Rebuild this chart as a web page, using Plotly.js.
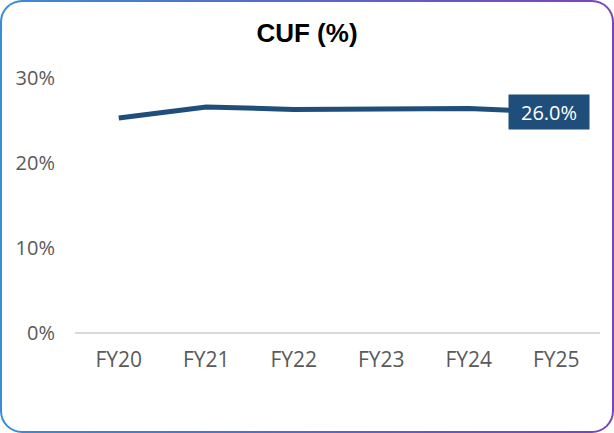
<!DOCTYPE html>
<html>
<head>
<meta charset="utf-8">
<script src="https://cdn.plot.ly/plotly-3.0.1.min.js"></script>
<style>
  html, body { margin: 0; padding: 0; background: #ffffff; }
  #frame {
    position: absolute; left: 0; top: 0; width: 614px; height: 433px;
    box-sizing: border-box; border-radius: 22px;
    background: linear-gradient(to right, #3a8bd8, #7a44b9);
  }
  #inner {
    position: absolute; left: 2px; top: 2px; right: 2px; bottom: 2px;
    border-radius: 20px; background: #ffffff;
  }
  #chart { position: absolute; left: 0; top: 0; width: 614px; height: 433px; }
</style>
</head>
<body>
<div id="frame"><div id="inner"></div></div>
<div id="chart"></div>
<script>
// Data
const categories = ["FY20", "FY21", "FY22", "FY23", "FY24", "FY25"];
const cufValues = [25.3, 26.6, 26.3, 26.3, 26.4, 26.0];
const yTicks = [0, 10, 20, 30];
const chartTitle = "CUF (%)";

const lastIdx = cufValues.length - 1;

const trace = {
  type: "scatter",
  mode: "lines",
  x: categories,
  y: cufValues,
  line: { color: "#1f4e7a", width: 5, shape: "linear" },
  hoverinfo: "skip"
};

const layout = {
  width: 614,
  height: 433,
  paper_bgcolor: "rgba(0,0,0,0)",
  plot_bgcolor: "rgba(0,0,0,0)",
  margin: { l: 75, r: 14, t: 78, b: 100 },
  showlegend: false,
  title: {
    text: "<b>" + chartTitle + "</b>",
    font: { family: "Liberation Sans, Arial, sans-serif", size: 26, color: "#000000" },
    x: 0.5, xanchor: "center",
    y: 1 - 33 / 433, yanchor: "middle", yref: "container"
  },
  xaxis: {
    type: "category",
    range: [-0.5, 5.5],
    showgrid: false,
    zeroline: false,
    showline: false,
    ticks: "",
    ticklabelstandoff: 12,
    tickfont: { family: "Open Sans, sans-serif", size: 21, color: "#5a5a5a" },
    fixedrange: true
  },
  yaxis: {
    range: [0, 30],
    tickvals: yTicks,
    ticktext: yTicks.map(v => v + "%"),
    showgrid: false,
    zeroline: true,
    zerolinecolor: "#d9d9d9",
    zerolinewidth: 2,
    showline: false,
    ticks: "",
    ticklabelstandoff: 19,
    tickfont: { family: "Open Sans, sans-serif", size: 20, color: "#5a5a5a" },
    fixedrange: true
  },
  annotations: [{
    x: categories[lastIdx],
    y: cufValues[lastIdx],
    xref: "x", yref: "y",
    text: cufValues[lastIdx].toFixed(1) + "%",
    showarrow: false,
    xshift: -7,
    width: 80, height: 34,
    borderpad: 0,
    bgcolor: "#1f4e7a",
    font: { family: "Open Sans, sans-serif", size: 20, color: "#ffffff" }
  }]
};

Plotly.newPlot("chart", [trace], layout, { displayModeBar: false, staticPlot: true });
</script>
</body>
</html>
